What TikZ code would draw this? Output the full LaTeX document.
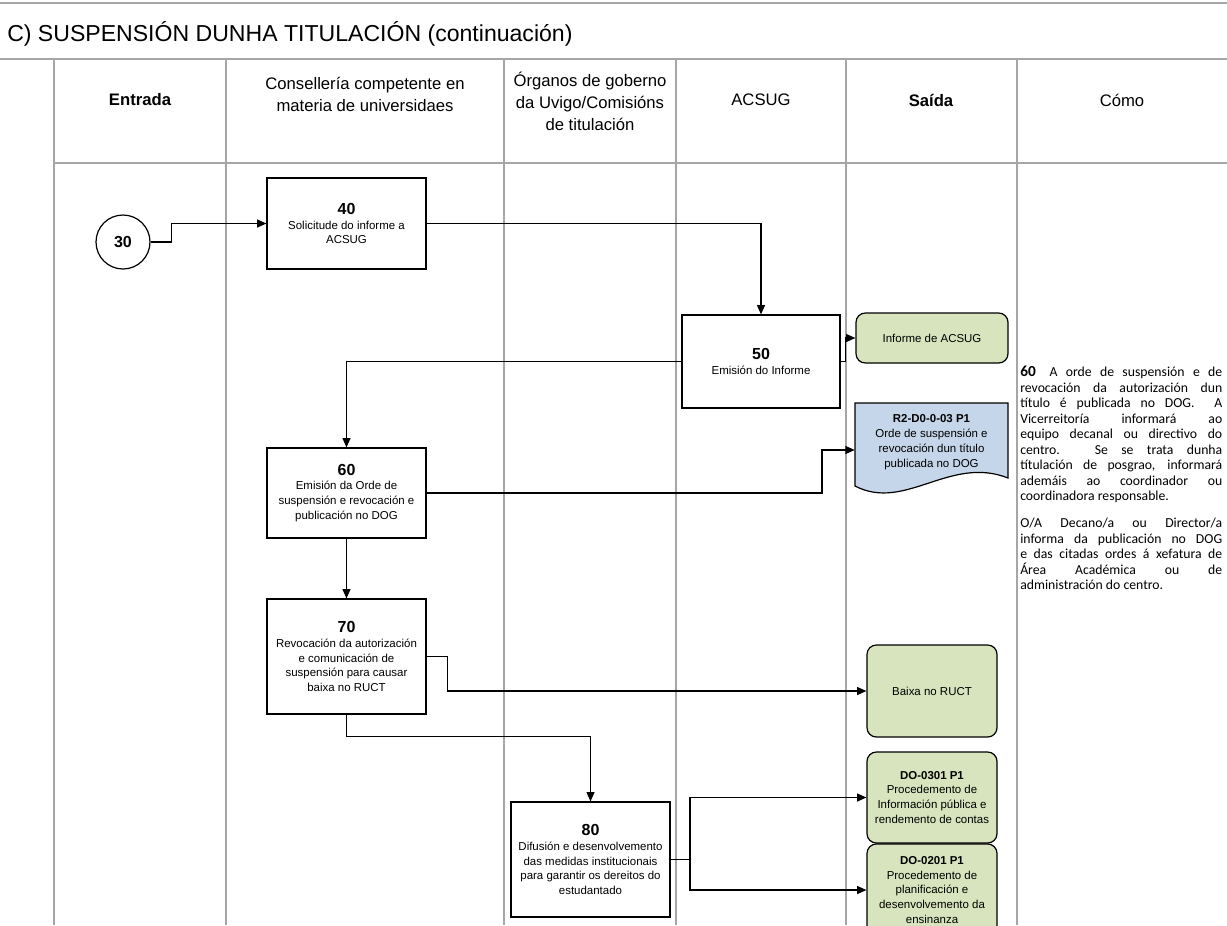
\documentclass[tikz,border=0pt]{standalone}
\usepackage{fontspec}
\setmainfont{Liberation Sans}
\newfontfamily\calibfont{Carlito}
\usetikzlibrary{arrows.meta}
\definecolor{lanegray}{RGB}{166,166,166}
\definecolor{outgreen}{RGB}{215,228,189}
\definecolor{docblue}{RGB}{198,214,234}
\newcommand\stepnum[1]{{\fontsize{12}{13}\selectfont\bfseries #1}}
\begin{document}
\begin{tikzpicture}[x=0.75pt,y=-0.75pt,
  lane/.style={draw=lanegray,line width=1.4pt},
  proc/.style={draw=black,line width=0.9pt,fill=white,inner sep=0pt,align=center,
    font=\fontsize{8.6}{11.2}\selectfont},
  outbox/.style={proc,fill=outgreen,rounded corners=7pt},
  conn/.style={draw=black,line width=0.9pt},
  arr/.style={conn,-{Triangle[length=7pt,width=6pt]}},
  hdr/.style={align=center,font=\fontsize{12.5}{16.5}\selectfont,inner sep=0pt},
  txt/.style={align=center,inner sep=0pt,font=\fontsize{8.6}{11.2}\selectfont}
]
\useasboundingbox (0,0) rectangle (1227,925);
\clip (0,0) rectangle (1227,925);
% frame lines
\draw[lane] (0,3) -- (1227,3);
\draw[lane] (0,59) -- (1227,59);
\draw[lane] (54,163) -- (1227,163);
\foreach \xx in {54,226,504,676,846,1017}{\draw[lane] (\xx,59) -- (\xx,925);}
% title
\node[anchor=west,inner sep=0pt,font=\fontsize{17.3}{20}\selectfont] (title) at (7,34) {C) SUSPENSIÓN DUNHA TITULACIÓN (continuación)};
% headers
\node[hdr,font=\fontsize{12.5}{16.5}\selectfont\bfseries] (h1) at (140,100) {Entrada};
\node[hdr] (h2) at (365,94) {Consellería competente en\\materia de universidaes};
\node[hdr] (h3) at (590,101) {Órganos de goberno\\da Uvigo/Comisións\\de titulación};
\node[hdr] (h4) at (761,100) {ACSUG};
\node[hdr,font=\fontsize{12.5}{16.5}\selectfont\bfseries] (h5) at (931,100) {Saída};
\node[hdr] (h6) at (1122,100) {Cómo};
% nodes
\node[circle,draw=black,line width=0.9pt,minimum size=54*0.75pt,inner sep=0pt,font=\fontsize{12}{13}\selectfont\bfseries] (c30) at (123,242) {30};
\node[proc,minimum width=159*0.75pt,minimum height=91*0.75pt] (b40) at (346.5,223.5) {\stepnum{40}\\Solicitude do informe a\\ACSUG};
\node[proc,minimum width=158*0.75pt,minimum height=93*0.75pt] (b50) at (761,361.5) {\stepnum{50}\\Emisión do Informe};
\node[proc,minimum width=159*0.75pt,minimum height=90*0.75pt] (b60) at (346.5,493) {\stepnum{60}\\Emisión da Orde de\\suspensión e revocación e\\publicación no DOG};
\node[proc,minimum width=159*0.75pt,minimum height=115*0.75pt] (b70) at (346.5,656.5) {\stepnum{70}\\Revocación da autorización\\e comunicación de\\suspensión para causar\\baixa no RUCT};
\node[proc,minimum width=159*0.75pt,minimum height=115*0.75pt] (b80) at (590.5,859.5) {\stepnum{80}\\Difusión e desenvolvemento\\das medidas institucionais\\para garantir os dereitos do\\estudantado};
% outputs
\node[outbox,minimum width=152*0.75pt,minimum height=50*0.75pt] (inf) at (932,338) {Informe de ACSUG};
\path[draw=black,line width=0.9pt,fill=docblue] (855,403) -- (1008,403) -- (1008,478)
  .. controls (950,455) and (905,512) .. (855,486) -- cycle;
\node[txt,minimum width=153*0.75pt,minimum height=80*0.75pt] (doc) at (931.5,442) {\textbf{R2-D0-0-03 P1}\\Orde de suspensión e\\revocación dun título\\publicada no DOG};
\node[outbox,minimum width=130*0.75pt,minimum height=92*0.75pt] (baixa) at (932,691) {Baixa no RUCT};
\node[outbox,minimum width=130*0.75pt,minimum height=91*0.75pt] (do1) at (932,797.5) {\textbf{DO-0301 P1}\\Procedemento de\\Información pública e\\rendemento de contas};
\node[outbox,minimum width=130*0.75pt,minimum height=92*0.75pt] (do2) at (932,890) {\textbf{DO-0201 P1}\\Procedemento de\\planificación e\\desenvolvemento da\\ensinanza};
% connectors
\draw[arr] (c30.east) -- ++(21,0) |- (b40.west);
\draw[arr] (b40.east) -| (b50.north);
\draw[arr] (b50.west) -| (b60.north);
\draw[arr] (b50.east) -- ++(5,0) |- (inf.west);
\draw[arr] (b60.east) -- (822,493) |- ([yshift=-6pt]doc.west);
\draw[arr] (b60.south) -- (b70.north);
\draw[arr] (b70.east) -- ++(21,0) |- (baixa.west);
\draw[arr] (b70.south) -- ++(0,22) -| (b80.north);
\coordinate (split) at (690,859.5);
\draw[conn] (b80.east) -- (split);
\draw[arr] (split) |- (do1.west);
\draw[arr] (split) |- (do2.west);
% como text
\node[anchor=north west,inner sep=0pt,text width=151.5pt,align=justify,font=\calibfont\fontsize{10.3}{11.6}\selectfont] (como) at (1020,366) {\noindent{\fontsize{11.5}{11.6}\selectfont\bfseries 60}\quad A orde de suspensión e de\linebreak
revocación da autorización dun\linebreak
título é publicada no DOG.\ \ A\linebreak
Vicerreitoría informará ao\linebreak
equipo decanal ou directivo do\linebreak
centro. Se se trata dunha\linebreak
títulación de posgrao, informará\linebreak
ademáis ao coordinador ou\linebreak
coordinadora responsable.\par\vspace{9pt}
\noindent O/A Decano/a ou Director/a\linebreak
informa da publicación no DOG\linebreak
e das citadas ordes á xefatura de\linebreak
Área Académica ou de\linebreak
administración do centro.\par};
\end{tikzpicture}
\end{document}
